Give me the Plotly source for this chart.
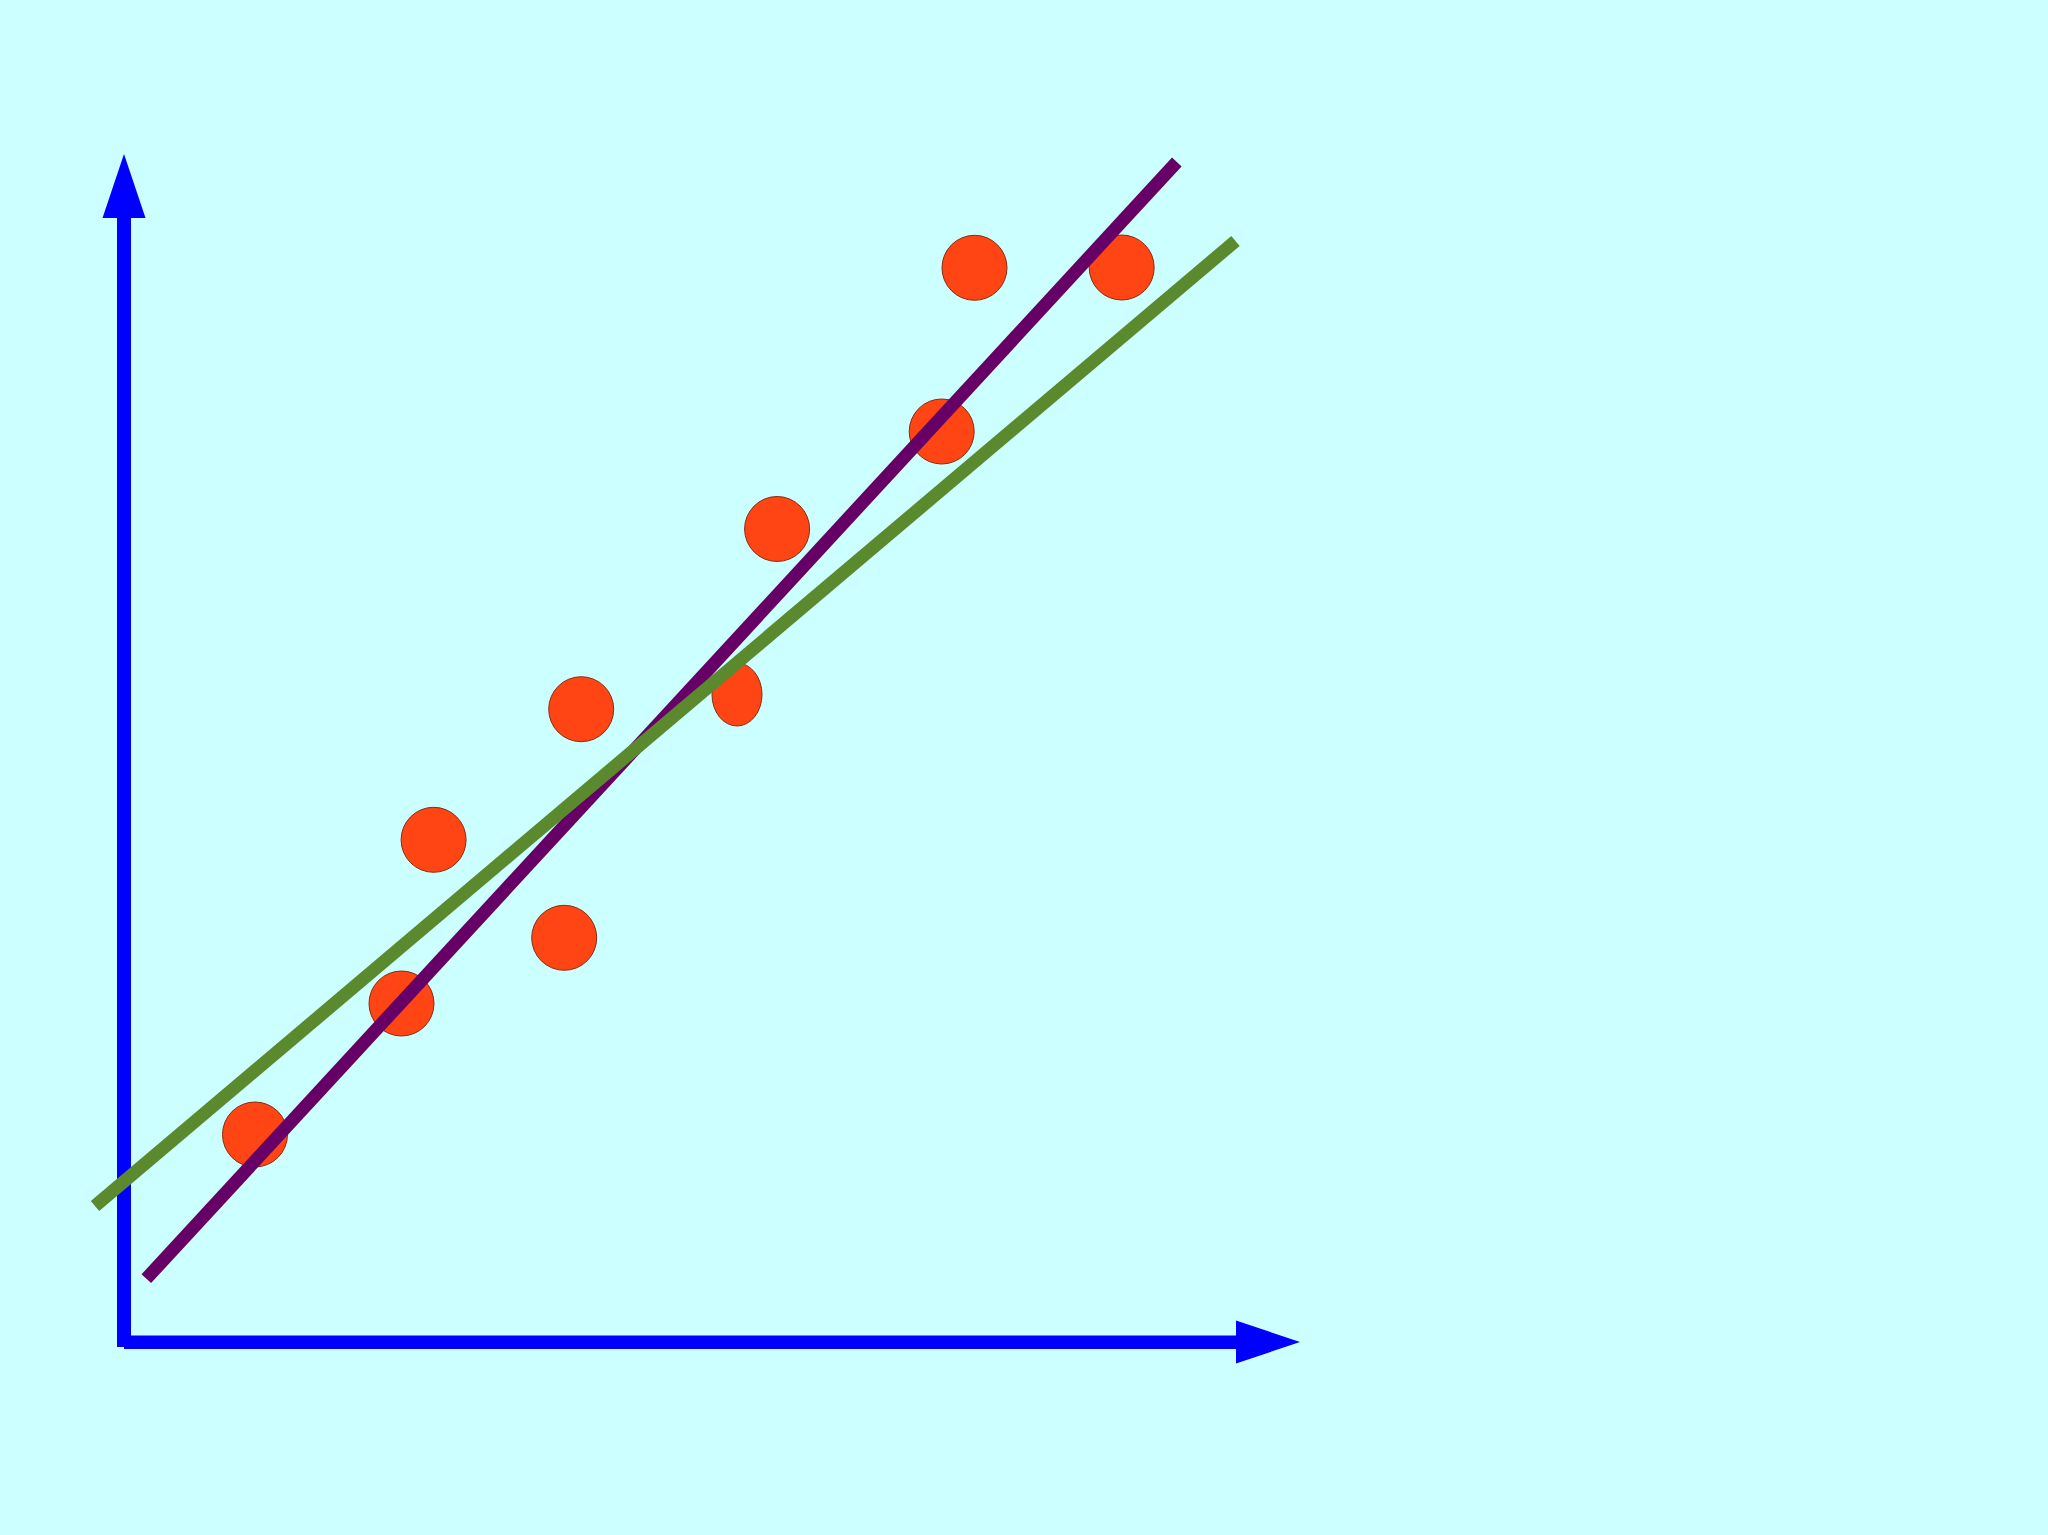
import plotly.graph_objects as go

# ---- data (units: arbitrary, origin at axes corner) ----
point_x = [1.31, 2.775, 3.096, 4.402, 4.572, 6.531, 8.177, 8.505, 9.977]
point_y = [2.075, 3.385, 5.022, 4.042, 6.328, 8.13, 9.105, 10.742, 10.745]
# one point is drawn as a slightly squashed ellipse in the original
odd_point_x = [6.13]
odd_point_y = [6.475]

purple_fit_x = [0.223, 10.528]
purple_fit_y = [0.633, 11.80]
green_fit_x = [-0.29, 11.115]
green_fit_y = [1.36, 11.01]

# axis extents
x_axis_end = 11.76
y_axis_end = 11.88

# ---- styles ----
BG = "#CCFFFF"
AXIS = "#0000FF"
DOT_FILL = "#FF4513"
DOT_LINE = "#8B2A10"
PURPLE = "#660066"
GREEN = "#5B8A2E"

W, H = 2048, 1535
PX = 100.0  # pixels per data unit
ox, oy = 124, 1342  # pixel position of origin

xr = [-ox / PX, (W - ox) / PX]
yr = [-(H - oy) / PX, oy / PX]

fig = go.Figure()

fig.add_trace(go.Scatter(
    x=point_x, y=point_y, mode="markers",
    marker=dict(size=65, color=DOT_FILL, line=dict(color=DOT_LINE, width=1)),
    hoverinfo="skip", showlegend=False))

fig.add_trace(go.Scatter(
    x=purple_fit_x, y=purple_fit_y, mode="lines",
    line=dict(color=PURPLE, width=13), hoverinfo="skip", showlegend=False))
fig.add_trace(go.Scatter(
    x=green_fit_x, y=green_fit_y, mode="lines",
    line=dict(color=GREEN, width=13), hoverinfo="skip", showlegend=False))

shapes = []
# ellipse point
ew, eh = 0.25, 0.315
for ex, ey in zip(odd_point_x, odd_point_y):
    shapes.append(dict(type="circle", xref="x", yref="y", layer="below",
                       x0=ex - ew, x1=ex + ew, y0=ey - eh, y1=ey + eh,
                       fillcolor=DOT_FILL, line=dict(color=DOT_LINE, width=1)))

# axes: shafts and arrow heads
head_len = 0.64
head_half = 0.215
shaft_half = 0.07
shapes.append(dict(type="rect", xref="x", yref="y", layer="below",
                   x0=-shaft_half, x1=shaft_half, y0=-0.05, y1=y_axis_end - head_len,
                   fillcolor=AXIS, line=dict(width=0)))
shapes.append(dict(type="rect", xref="x", yref="y", layer="below",
                   x0=0, x1=x_axis_end - head_len, y0=-0.07, y1=0.065,
                   fillcolor=AXIS, line=dict(width=0)))
yb = y_axis_end - head_len
shapes.append(dict(type="path", xref="x", yref="y", layer="below",
                   path=f"M {-head_half} {yb} L {head_half} {yb} L 0 {y_axis_end} Z",
                   fillcolor=AXIS, line=dict(width=0)))
xb = x_axis_end - head_len
shapes.append(dict(type="path", xref="x", yref="y", layer="below",
                   path=f"M {xb} {-head_half} L {xb} {head_half} L {x_axis_end} 0 Z",
                   fillcolor=AXIS, line=dict(width=0)))

fig.update_layout(
    width=W, height=H,
    margin=dict(l=0, r=0, t=0, b=0),
    paper_bgcolor=BG, plot_bgcolor=BG,
    shapes=shapes,
    xaxis=dict(range=xr, visible=False, fixedrange=True),
    yaxis=dict(range=yr, visible=False, fixedrange=True),
    showlegend=False,
)

fig.write_html(
    "out.html",
    config={"displayModeBar": False},
    post_script=(
        "document.documentElement.style.margin='0';"
        "document.body.style.margin='0';"
        "document.body.style.padding='0';"
        "document.body.style.overflow='hidden';"
        "document.body.style.background='" + BG + "';"
    ),
)
